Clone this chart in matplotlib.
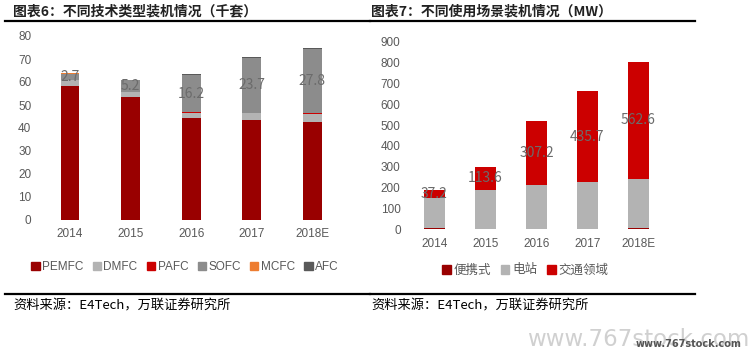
import matplotlib
matplotlib.use("Agg")
import matplotlib.pyplot as plt
from matplotlib.patches import Patch
from matplotlib.lines import Line2D
import numpy as np

plt.rcParams['font.family'] = ['Liberation Sans', 'Noto Sans CJK SC', 'DejaVu Sans']

# left chart: installed units by technology (thousand sets)
years = ['2014', '2015', '2016', '2017', '2018E']
pemfc = [58.3, 53.6, 44.3, 43.5, 42.6]
dmfc = [2.4, 2.2, 2.2, 3.2, 3.6]
pafc = [0.0, 0.0, 0.4, 0.0, 0.4]
sofc = [2.7, 5.2, 16.2, 23.7, 27.8]
mcfc = [0.3, 0.0, 0.0, 0.0, 0.0]
afc = [0.0, 0.0, 0.3, 0.3, 0.2]
tech_names = ['PEMFC', 'DMFC', 'PAFC', 'SOFC', 'MCFC', 'AFC']
tech_colors = ['#990000', '#b3b3b3', '#cc0000', '#8c8c8c', '#ed7d31', '#595959']

# right chart: capacity by application (MW)
portable = [5, 0.5, 0.5, 0.5, 5]
station = [146, 187, 214, 225, 237]
transport = [37.2, 113.6, 307.2, 435.7, 562.6]
app_names = ['便携式', '电站', '交通领域']
app_colors = ['#990000', '#b3b3b3', '#cc0000']

W, H = 751, 355
fig = plt.figure(figsize=(W / 100, H / 100), dpi=100)

tick_color = '#595959'
cjk = ['Noto Sans CJK SC', 'DejaVu Sans']


def style_axes(ax):
    for s in ax.spines.values():
        s.set_visible(False)
    ax.tick_params(length=0, colors=tick_color, labelsize=8.5, pad=6)


# ---- left chart ----
ax1 = fig.add_axes([39.7 / W, 1 - 220 / H, 303 / W, 184 / H])
x = np.arange(len(years))
series = [pemfc, dmfc, pafc, sofc, mcfc, afc]
bottom = np.zeros(len(years))
containers = []
for vals, col in zip(series, tech_colors):
    c = ax1.bar(x, vals, 0.31, bottom=bottom, color=col)
    containers.append(c)
    bottom += np.array(vals)
ax1.bar_label(containers[3], labels=[f'{v}' for v in sofc], label_type='center',
              color='#6b6b6b', fontsize=10, family=cjk)
ax1.set_xlim(-0.5, 4.5)
ax1.set_ylim(0, 80)
ax1.set_yticks(range(0, 81, 10))
ax1.set_xticks(x, years)
style_axes(ax1)

handles = [Patch(color=c, label=n) for n, c in zip(tech_names, tech_colors)]
fig.legend(handles=handles, loc='center', bbox_to_anchor=(185 / W, 1 - 267 / H), ncol=6,
           frameon=False, fontsize=8.5, handlelength=0.7, handleheight=0.7,
           handletextpad=0.2, columnspacing=0.8, labelcolor=tick_color)

# ---- right chart ----
ax2 = fig.add_axes([409 / W, 1 - 229.3 / H, 255 / W, 187.6 / H])
bottom = np.zeros(len(years))
containers = []
for vals, col in zip([portable, station, transport], app_colors):
    c = ax2.bar(x, vals, 0.41, bottom=bottom, color=col)
    containers.append(c)
    bottom += np.array(vals)
ax2.bar_label(containers[2], labels=[f'{v}' for v in transport], label_type='center',
              color='#6b6b6b', fontsize=10, family=cjk)
ax2.set_xlim(-0.5, 4.5)
ax2.set_ylim(0, 900)
ax2.set_yticks(range(0, 901, 100))
ax2.set_xticks(x, years)
style_axes(ax2)

handles = [Patch(color=c, label=n) for n, c in zip(app_names, app_colors)]
fig.legend(handles=handles, loc='center', bbox_to_anchor=(525 / W, 1 - 270 / H), ncol=3,
           frameon=False, prop={'family': cjk, 'size': 9}, handlelength=0.7,
           handleheight=0.7, handletextpad=0.2, columnspacing=0.8, labelcolor=tick_color)

# ---- titles, rules, sources ----
fig.text(13 / W, 1 - 11 / H, '图表6：不同技术类型装机情况（千套）', family=cjk,
         fontsize=10, weight='bold', va='center', color='#222222')
fig.text(371 / W, 1 - 11 / H, '图表7：不同使用场景装机情况（MW）', family=cjk,
         fontsize=10, weight='bold', va='center', color='#222222')
for x0, x1 in [(5, 370), (370, 695)]:
    for yy in (20.7, 294):
        fig.add_artist(Line2D([x0 / W, x1 / W], [1 - yy / H, 1 - yy / H],
                              color='black', lw=1.6, transform=fig.transFigure))
fig.text(13 / W, 1 - 306 / H, '资料来源：E4Tech，万联证券研究所', family=cjk,
         fontsize=9.5, va='center', color='black')
fig.text(371 / W, 1 - 306 / H, '资料来源：E4Tech，万联证券研究所', family=cjk,
         fontsize=9.5, va='center', color='black')

# watermark
fig.text(527 / W, 1 - 340 / H, 'www.767stock.com', fontsize=16.5, color='#d0d0d0',
         va='center', family='DejaVu Sans')
fig.text(636 / W, 1 - 344 / H, 'www.767stock.com', fontsize=7, color='#555555',
         va='center', family='DejaVu Sans', weight='bold')

fig.savefig('out.png', dpi=100)
